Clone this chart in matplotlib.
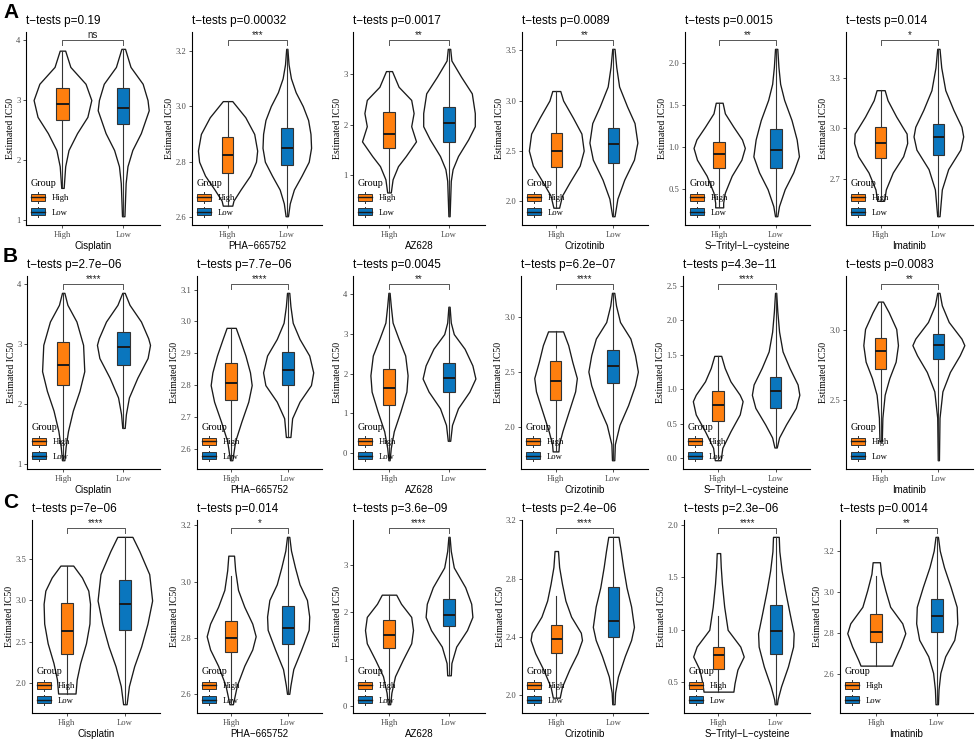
import numpy as np
import matplotlib
matplotlib.use("Agg")
import matplotlib.pyplot as plt
from matplotlib.patches import Patch, Rectangle
from matplotlib.lines import Line2D
from matplotlib.legend_handler import HandlerBase

SANS = "Liberation Sans"
SERIF = "Liberation Serif"
HIGH_COLOR = "#FF7F0E"
LOW_COLOR = "#0A76BE"

# x labels and panel letters
drugs = ["Cisplatin", "PHA\u2212665752", "AZ628", "Crizotinib", "S\u2212Trityl\u2212L\u2212cysteine", "Imatinib"]
row_letters = ["A", "B", "C"]

# t-test p values (as printed) and significance marks, one row per cohort
pvals_A = ["0.19", "0.00032", "0.0017", "0.0089", "0.0015", "0.014"]
pvals_B = ["2.7e\u221206", "7.7e\u221206", "0.0045", "6.2e\u221207", "4.3e\u221211", "0.0083"]
pvals_C = ["7e\u221206", "0.014", "3.6e\u221209", "2.4e\u221206", "2.3e\u221206", "0.0014"]
stars_A = ["ns", "***", "**", "**", "**", "*"]
stars_B = ["****", "****", "**", "****", "****", "**"]
stars_C = ["****", "*", "****", "****", "****", "**"]

# y tick labels per panel
yticks_A = [["1", "2", "3", "4"], ["2.6", "2.8", "3.0", "3.2"], ["1", "2", "3"],
            ["2.0", "2.5", "3.0", "3.5"], ["0.5", "1.0", "1.5", "2.0"], ["2.7", "3.0", "3.3"]]
yticks_B = [["1", "2", "3", "4"], ["2.6", "2.7", "2.8", "2.9", "3.0", "3.1"], ["0", "1", "2", "3", "4"],
            ["2.0", "2.5", "3.0"], ["0.0", "0.5", "1.0", "1.5", "2.0", "2.5"], ["2.5", "3.0"]]
yticks_C = [["2.0", "2.5", "3.0", "3.5"], ["2.6", "2.8", "3.0", "3.2"], ["0", "1", "2", "3"],
            ["2.0", "2.4", "2.8", "3.2"], ["0.5", "1.0", "1.5", "2.0"], ["2.6", "2.8", "3.0", "3.2"]]

# violin outlines: (estimated IC50, half width)
A_high_violin = [
    [(3.82, 0.045), (3.55, 0.13), (3.27, 0.38), (3.0, 0.475), (2.72, 0.41), (2.45, 0.24), (2.17, 0.10), (1.9, 0.045), (1.54, 0.02)],
    [(3.018, 0.08), (2.96, 0.30), (2.90, 0.45), (2.84, 0.50), (2.80, 0.48), (2.75, 0.38), (2.70, 0.22), (2.66, 0.10), (2.642, 0.08)],
    [(3.06, 0.05), (2.75, 0.16), (2.49, 0.37), (2.23, 0.41), (1.97, 0.37), (1.67, 0.45), (1.38, 0.28), (1.18, 0.15), (0.92, 0.06), (0.66, 0.03)],
    [(3.095, 0.07), (3.0, 0.12), (2.83, 0.29), (2.67, 0.44), (2.5, 0.48), (2.35, 0.41), (2.18, 0.23), (2.05, 0.10), (1.93, 0.05)],
    [(1.526, 0.06), (1.40, 0.10), (1.24, 0.25), (1.09, 0.40), (0.99, 0.45), (0.85, 0.39), (0.66, 0.22), (0.46, 0.10), (0.34, 0.07), (0.285, 0.07)],
    [(3.226, 0.07), (3.167, 0.12), (3.07, 0.27), (2.97, 0.45), (2.914, 0.46), (2.836, 0.39), (2.74, 0.21), (2.64, 0.09), (2.573, 0.06)],
]
A_low_violin = [
    [(3.85, 0.03), (3.55, 0.12), (3.27, 0.32), (3.0, 0.40), (2.83, 0.42), (2.45, 0.29), (2.17, 0.15), (1.9, 0.07), (1.62, 0.04), (1.07, 0.02)],
    [(3.206, 0.01), (3.15, 0.03), (3.10, 0.07), (3.05, 0.15), (3.00, 0.27), (2.95, 0.36), (2.90, 0.40), (2.85, 0.41), (2.80, 0.37), (2.75, 0.25), (2.70, 0.12), (2.65, 0.05), (2.604, 0.02)],
    [(3.50, 0.02), (3.27, 0.04), (2.95, 0.2), (2.62, 0.38), (2.23, 0.43), (1.97, 0.43), (1.71, 0.32), (1.38, 0.15), (1.12, 0.06), (0.89, 0.03), (0.19, 0.01)],
    [(3.516, 0.02), (3.335, 0.05), (3.14, 0.10), (2.94, 0.24), (2.775, 0.37), (2.58, 0.42), (2.41, 0.36), (2.21, 0.19), (2.02, 0.07), (1.845, 0.02)],
    [(2.165, 0.02), (1.95, 0.04), (1.75, 0.07), (1.56, 0.14), (1.32, 0.27), (1.09, 0.36), (0.89, 0.40), (0.70, 0.30), (0.50, 0.15), (0.30, 0.05), (0.18, 0.02)],
    [(3.47, 0.02), (3.36, 0.05), (3.226, 0.12), (3.11, 0.26), (3.01, 0.40), (2.953, 0.43), (2.875, 0.38), (2.76, 0.17), (2.64, 0.06), (2.482, 0.02)],
]
B_high_violin = [
    [(3.86, 0.02), (3.66, 0.07), (3.38, 0.22), (2.99, 0.33), (2.55, 0.35), (2.22, 0.27), (1.89, 0.16), (1.55, 0.08), (1.28, 0.04), (1.06, 0.02)],
    [(2.98, 0.08), (2.945, 0.15), (2.893, 0.25), (2.84, 0.33), (2.80, 0.36), (2.748, 0.30), (2.686, 0.18), (2.624, 0.07), (2.564, 0.02)],
    [(4.04, 0.01), (3.71, 0.03), (3.29, 0.06), (2.88, 0.16), (2.46, 0.27), (1.96, 0.31), (1.55, 0.29), (1.05, 0.19), (0.55, 0.08), (0.13, 0.03), (-0.18, 0.01)],
    [(2.87, 0.13), (2.745, 0.22), (2.595, 0.29), (2.446, 0.37), (2.325, 0.34), (2.145, 0.23), (1.965, 0.12), (1.845, 0.06), (1.78, 0.05)],
    [(1.485, 0.06), (1.31, 0.12), (1.115, 0.22), (0.92, 0.38), (0.827, 0.43), (0.635, 0.38), (0.39, 0.22), (0.15, 0.08), (-0.03, 0.05)],
    [(3.207, 0.04), (3.13, 0.14), (3.01, 0.27), (2.893, 0.30), (2.774, 0.26), (2.655, 0.15), (2.536, 0.07), (2.37, 0.03), (2.20, 0.02)],
]
B_low_violin = [
    [(3.86, 0.02), (3.66, 0.10), (3.38, 0.29), (3.10, 0.41), (2.99, 0.44), (2.77, 0.40), (2.44, 0.23), (2.11, 0.09), (1.83, 0.04), (1.6, 0.02)],
    [(3.09, 0.02), (3.048, 0.04), (2.996, 0.08), (2.945, 0.2), (2.893, 0.37), (2.84, 0.44), (2.80, 0.40), (2.748, 0.2), (2.696, 0.07), (2.637, 0.04)],
    [(3.69, 0.01), (3.29, 0.03), (3.0, 0.08), (2.63, 0.26), (2.21, 0.39), (1.88, 0.44), (1.55, 0.34), (1.13, 0.15), (0.71, 0.05), (0.31, 0.02)],
    [(3.22, 0.02), (3.105, 0.05), (2.955, 0.12), (2.805, 0.3), (2.655, 0.38), (2.505, 0.43), (2.38, 0.38), (2.2, 0.26), (2.02, 0.11), (1.845, 0.03), (1.70, 0.02)],
    [(2.40, 0.01), (2.125, 0.03), (1.836, 0.06), (1.55, 0.12), (1.31, 0.24), (1.07, 0.38), (0.92, 0.41), (0.73, 0.35), (0.49, 0.18), (0.30, 0.06), (0.155, 0.02)],
    [(3.27, 0.02), (3.18, 0.06), (3.06, 0.18), (2.94, 0.40), (2.893, 0.45), (2.82, 0.37), (2.70, 0.2), (2.56, 0.07), (2.37, 0.02), (2.064, 0.01)],
]
C_high_violin = [
    [(3.424, 0.11), (3.28, 0.26), (3.12, 0.37), (2.96, 0.40), (2.72, 0.39), (2.48, 0.33), (2.24, 0.23), (2.04, 0.17), (1.87, 0.15)],
    [(3.092, 0.05), (3.04, 0.07), (2.97, 0.12), (2.91, 0.23), (2.85, 0.37), (2.805, 0.43), (2.758, 0.37), (2.70, 0.23), (2.63, 0.10), (2.563, 0.03)],
    [(2.362, 0.12), (2.17, 0.2), (1.89, 0.37), (1.61, 0.40), (1.33, 0.37), (0.98, 0.23), (0.63, 0.10), (0.28, 0.04), (0.036, 0.02)],
    [(2.99, 0.03), (2.88, 0.05), (2.765, 0.1), (2.65, 0.16), (2.54, 0.26), (2.43, 0.43), (2.38, 0.45), (2.29, 0.37), (2.18, 0.23), (2.06, 0.1), (1.985, 0.06)],
    [(1.732, 0.03), (1.60, 0.04), (1.44, 0.06), (1.22, 0.10), (1.0, 0.16), (0.84, 0.38), (0.745, 0.44), (0.62, 0.33), (0.49, 0.28), (0.41, 0.26)],
    [(3.144, 0.06), (3.088, 0.08), (3.008, 0.15), (2.928, 0.23), (2.848, 0.43), (2.8, 0.48), (2.736, 0.40), (2.672, 0.30), (2.643, 0.26)],
]
C_low_violin = [
    [(3.773, 0.13), (3.60, 0.25), (3.32, 0.42), (3.0, 0.47), (2.72, 0.39), (2.44, 0.28), (2.20, 0.16), (1.96, 0.07), (1.74, 0.03)],
    [(3.159, 0.02), (3.11, 0.05), (3.05, 0.12), (2.99, 0.20), (2.934, 0.33), (2.875, 0.37), (2.828, 0.36), (2.758, 0.23), (2.688, 0.09), (2.63, 0.04), (2.60, 0.02)],
    [(3.59, 0.01), (3.29, 0.03), (2.94, 0.08), (2.52, 0.27), (2.17, 0.37), (1.89, 0.39), (1.61, 0.30), (1.26, 0.12), (0.91, 0.04), (0.65, 0.03)],
    [(3.087, 0.09), (2.99, 0.13), (2.88, 0.17), (2.74, 0.23), (2.61, 0.31), (2.47, 0.36), (2.38, 0.31), (2.27, 0.2), (2.13, 0.08), (2.02, 0.03), (1.94, 0.02)],
    [(1.887, 0.05), (1.75, 0.06), (1.565, 0.10), (1.376, 0.16), (1.155, 0.24), (0.967, 0.31), (0.84, 0.30), (0.65, 0.21), (0.46, 0.09), (0.336, 0.03), (0.29, 0.02)],
    [(3.267, 0.02), (3.2, 0.05), (3.12, 0.12), (3.024, 0.23), (2.928, 0.33), (2.848, 0.34), (2.768, 0.29), (2.688, 0.14), (2.608, 0.06), (2.528, 0.03), (2.456, 0.02)],
]

# boxplots: (q1, median, q3, lower whisker, upper whisker)
A_high_box = [(2.67, 2.94, 3.20, 1.55, 3.82), (2.76, 2.825, 2.89, 2.642, 3.018), (1.54, 1.82, 2.25, 0.66, 3.06),
              (2.336, 2.495, 2.676, 1.93, 3.095), (0.755, 0.923, 1.06, 0.285, 1.526), (2.827, 2.914, 3.006, 2.573, 3.226)]
A_low_box = [(2.60, 2.87, 3.20, 1.07, 3.85), (2.79, 2.85, 2.921, 2.604, 3.206), (1.65, 2.03, 2.35, 0.19, 3.50),
             (2.38, 2.567, 2.725, 1.845, 3.516), (0.755, 0.97, 1.213, 0.18, 2.165), (2.846, 2.95, 3.027, 2.482, 3.47)]
B_high_box = [(2.32, 2.65, 3.03, 1.06, 3.86), (2.752, 2.808, 2.87, 2.564, 2.98), (1.21, 1.645, 2.11, -0.18, 4.04),
              (2.246, 2.42, 2.60, 1.78, 2.87), (0.54, 0.77, 0.97, -0.03, 1.485), (2.72, 2.85, 2.945, 2.20, 3.207)]
B_low_box = [(2.65, 2.95, 3.21, 1.6, 3.86), (2.80, 2.848, 2.903, 2.637, 3.09), (1.545, 1.895, 2.27, 0.31, 3.69),
             (2.40, 2.56, 2.70, 1.70, 3.22), (0.73, 0.98, 1.18, 0.155, 2.40), (2.795, 2.893, 2.974, 2.064, 3.27)]
C_high_box = [(2.353, 2.634, 2.97, 1.87, 3.424), (2.75, 2.80, 2.859, 2.563, 3.02), (1.24, 1.507, 1.82, 0.036, 2.362),
              (2.29, 2.385, 2.483, 1.985, 2.68), (0.626, 0.755, 0.84, 0.41, 1.13), (2.757, 2.808, 2.891, 2.643, 3.075)]
C_low_box = [(2.64, 2.96, 3.25, 1.74, 3.773), (2.778, 2.836, 2.914, 2.60, 3.159), (1.70, 1.94, 2.28, 0.65, 3.59),
             (2.403, 2.512, 2.743, 1.94, 3.087), (0.768, 0.988, 1.234, 0.29, 1.887), (2.805, 2.885, 2.968, 2.456, 3.267)]

# layout (pixels): left edge of every panel's y axis
axis_left = [[26, 192, 353, 522, 685, 846],
             [27, 197, 353, 521, 683, 846],
             [32, 197, 353, 522, 684, 840]]

rows = [
    (pvals_A, stars_A, yticks_A, A_high_violin, A_low_violin, A_high_box, A_low_box),
    (pvals_B, stars_B, yticks_B, B_high_violin, B_low_violin, B_high_box, B_low_box),
    (pvals_C, stars_C, yticks_C, C_high_violin, C_low_violin, C_high_box, C_low_box),
]


class BoxKey(HandlerBase):
    def create_artists(self, legend, orig_handle, xdescent, ydescent, width, height, fontsize, trans):
        x0, y0 = -xdescent, -ydescent
        cx = x0 + width / 2
        bw, bh = width * 0.85, height * 0.8
        whisk = Line2D([cx, cx], [y0 - 0.1 * height, y0 + 1.1 * height], color="#333333", lw=0.7, transform=trans)
        box = Rectangle((cx - bw / 2, y0 + (height - bh) / 2), bw, bh, facecolor=orig_handle.get_facecolor(),
                        edgecolor="#333333", lw=0.7, transform=trans)
        med = Line2D([cx - bw / 2, cx + bw / 2], [y0 + height / 2] * 2, color="#1a1a1a", lw=1.0, transform=trans)
        return [whisk, box, med]


def violin_stats(profile):
    prof = sorted(profile)
    ys = np.array([p[0] for p in prof])
    ws = np.array([p[1] for p in prof])
    return dict(coords=ys, vals=ws, mean=ys.mean(), median=np.median(ys), min=ys[0], max=ys[-1]), 2 * ws.max()


W, H = 976, 739
fig = plt.figure(figsize=(W / 100, H / 100), dpi=100)
slot = W / 6

for r, (pvals, stars, yticks, hv, lv, hb, lb) in enumerate(rows):
    top = 31.7 + 244 * r
    bottom = 225 + 244 * r
    fig.text(3 / W, 1 - (12 + 245 * r) / H, row_letters[r], fontsize=15, fontweight="bold",
             family=SANS, va="center", ha="left")
    for c in range(6):
        left = axis_left[r][c]
        right = slot * (c + 1) - 3
        ax = fig.add_axes([left / W, 1 - bottom / H, (right - left) / W, (bottom - top) / H])

        st_h, w_h = violin_stats(hv[c])
        st_l, w_l = violin_stats(lv[c])
        parts = ax.violin([st_h, st_l], positions=[1, 2], widths=[w_h, w_l], showextrema=False)
        for body in parts["bodies"]:
            body.set_facecolor("white")
            body.set_edgecolor("#1a1a1a")
            body.set_linewidth(0.95)
            body.set_alpha(1)
            body.set_zorder(1)

        box_stats = []
        for b, lab in ((hb[c], "High"), (lb[c], "Low")):
            q1, med, q3, lo, hi = b
            box_stats.append(dict(med=med, q1=q1, q3=q3, whislo=lo, whishi=hi, label=lab, fliers=[]))
        bp = ax.bxp(box_stats, positions=[1, 2], widths=0.2, patch_artist=True, showfliers=False,
                    showcaps=False,
                    boxprops=dict(edgecolor="#333333", linewidth=0.8),
                    medianprops=dict(color="#1a1a1a", linewidth=1.4),
                    whiskerprops=dict(color="#333333", linewidth=0.8))
        for patch, col in zip(bp["boxes"], [HIGH_COLOR, LOW_COLOR]):
            patch.set_facecolor(col)
        for w in bp["whiskers"]:
            w.set_zorder(1.5)

        # y range like ggplot: data + bracket, 5% expansion
        all_y = [p[0] for p in hv[c] + lv[c]] + list(hb[c]) + list(lb[c])
        ymin, ymax = min(all_y), max(all_y)
        ybr = ymax + 0.05 * (ymax - ymin)
        span = ybr - ymin
        lo_lim, hi_lim = ymin - 0.05 * span, ybr + 0.05 * span
        ax.set_ylim(lo_lim, hi_lim)
        ax.set_xlim(0.4, 2.6)
        tip = 0.025 * (hi_lim - lo_lim)
        ax.plot([1, 1, 2, 2], [ybr - tip, ybr, ybr, ybr - tip], color="#555555", lw=0.7)
        ax.text(1.5, ybr + 0.004 * (hi_lim - lo_lim), stars[c], ha="center", va="bottom",
                fontsize=7, family=SANS, color="#222222")

        ax.set_yticks([float(t) for t in yticks[c]])
        ax.set_yticklabels(yticks[c], family=SERIF)
        ax.set_xticks([1, 2])
        ax.set_xticklabels(["High", "Low"], family=SERIF)
        ax.tick_params(labelsize=6.2, labelcolor="#4D4D4D", length=2.5, width=0.6, pad=1.5, color="#333333")
        for s in ("top", "right"):
            ax.spines[s].set_visible(False)
        for s in ("left", "bottom"):
            ax.spines[s].set_linewidth(0.8)

        ax.set_title(f"t\u2212tests p={pvals[c]}", loc="left", fontsize=8.5, family=SANS, pad=5.5)
        ax.set_xlabel(drugs[c], fontsize=7, family=SANS, labelpad=1.5)
        ax.set_ylabel("Estimated IC50", fontsize=7, family=SERIF, labelpad=0.8)

        handles = [Patch(facecolor=HIGH_COLOR, label="High"), Patch(facecolor=LOW_COLOR, label="Low")]
        leg = ax.legend(handles=handles, title="Group", loc="lower left", bbox_to_anchor=(0.0, 0.02),
                        frameon=False, handler_map={Patch: BoxKey()},
                        prop=dict(family=SERIF, size=6.2), title_fontproperties=dict(family=SERIF, size=7.2),
                        handlelength=1.8, handleheight=1.2, handletextpad=0.7, labelspacing=0.6,
                        borderaxespad=0.3, borderpad=0.2, alignment="left")

fig.savefig("out.png", dpi=100)
